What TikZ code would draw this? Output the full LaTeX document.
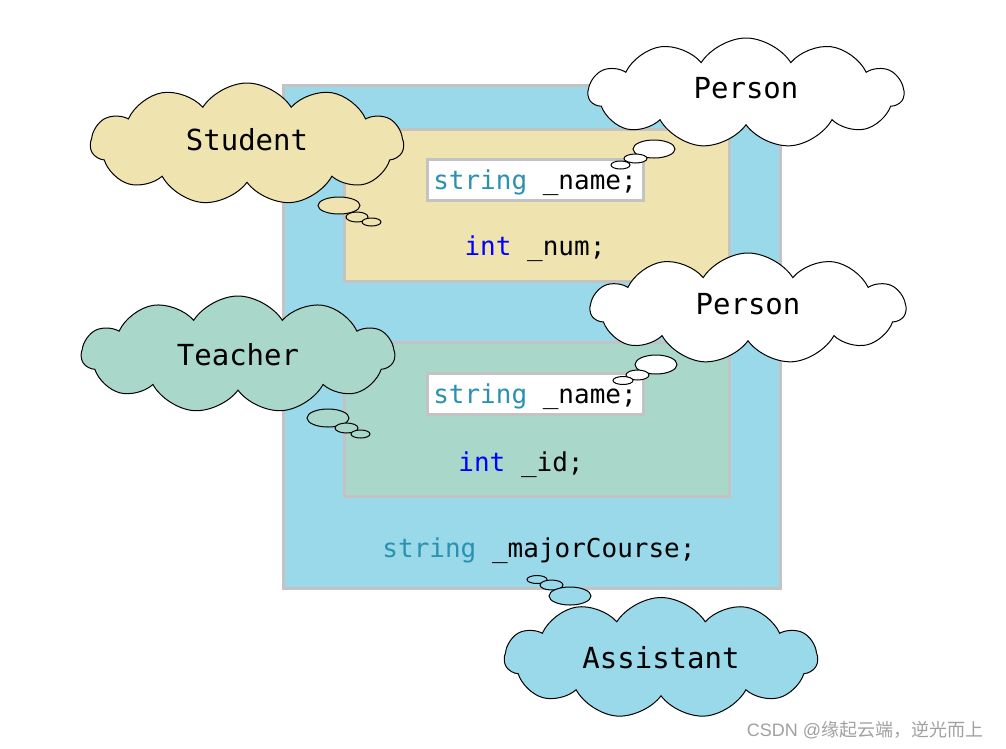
\documentclass[tikz,border=0pt]{standalone}
\usepackage{fontspec}
\setmonofont{DejaVu Sans Mono}
\newfontfamily\cjkfont{Noto Sans CJK SC}
\newfontfamily\latinmark{Liberation Sans}
\usetikzlibrary{shapes.symbols}
\definecolor{outerblue}{HTML}{99D9EA}
\definecolor{stutan}{HTML}{EFE4B0}
\definecolor{teagreen}{HTML}{A9D8CA}
\definecolor{boxgray}{HTML}{C3C3C3}
\definecolor{typeteal}{HTML}{2B91AF}
\definecolor{kwblue}{HTML}{0000FF}
\definecolor{markgray}{HTML}{A0A0A0}
\newcommand{\ty}[1]{\textcolor{typeteal}{#1}}
\newcommand{\kw}[1]{\textcolor{kwblue}{#1}}
\tikzset{
  box/.style={draw=boxgray, line width=3pt, inner sep=0pt},
  code/.style={font=\ttfamily\fontsize{26}{30}\selectfont, text depth=0pt},
  thought/.style={cloud, cloud puffs=11, cloud puff arc=115, aspect=2.6,
    draw=black, line width=1pt, inner sep=0pt, cloud ignores aspect,
    font=\ttfamily\fontsize{29}{34}\selectfont},
  bubble/.style={draw=black, line width=1pt}
}
\begin{document}
\begin{tikzpicture}[x=1pt,y=-1pt]
\useasboundingbox (0,0) rectangle (1006,748);
% class boxes
\node[box, fill=outerblue, minimum width=497pt, minimum height=503pt] (outer) at (532,337) {};
\node[box, fill=stutan, minimum width=385pt, minimum height=152pt] (stubox) at (537,205) {};
\node[box, fill=teagreen, minimum width=385pt, minimum height=154pt] (teabox) at (537,419) {};
\node[box, fill=white, code, minimum width=216pt, minimum height=41pt] (name1) at (535,179.5) {\ty{string} \_name;};
\node[box, fill=white, code, minimum width=216pt, minimum height=41pt] (name2) at (535,393.5) {\ty{string} \_name;};
\node[code] (num) at (535,246) {\kw{int} \_num;};
\node[code] (id) at (521,462) {\kw{int} \_id;};
\node[code] (major) at (539,548) {\ty{string} \_majorCourse;};
% thought clouds
\node[thought, fill=stutan, text depth=10pt, minimum width=313pt, minimum height=122pt] (student) at (247,144) {Student};
\filldraw[bubble, fill=stutan] (339,205.5) ellipse [x radius=21pt, y radius=8.5pt];
\filldraw[bubble, fill=stutan] (357,217) ellipse [x radius=11pt, y radius=5pt];
\filldraw[bubble, fill=stutan] (371.5,222) ellipse [x radius=9.5pt, y radius=4pt];
\node[thought, fill=white, text depth=10pt, minimum width=315pt, minimum height=110pt] (person1) at (746,93) {Person};
\filldraw[bubble, fill=white] (654,149) ellipse [x radius=21pt, y radius=9pt];
\filldraw[bubble, fill=white] (635.5,158.5) ellipse [x radius=11.5pt, y radius=4.5pt];
\filldraw[bubble, fill=white] (620.5,165) ellipse [x radius=9.5pt, y radius=4pt];
\node[thought, fill=teagreen, minimum width=313pt, minimum height=117pt] (teacher) at (238,354.5) {Teacher};
\filldraw[bubble, fill=teagreen] (328,418) ellipse [x radius=21pt, y radius=9pt];
\filldraw[bubble, fill=teagreen] (346.5,428) ellipse [x radius=11.5pt, y radius=5pt];
\filldraw[bubble, fill=teagreen] (360.5,434) ellipse [x radius=9.5pt, y radius=4pt];
\node[thought, fill=white, text depth=9pt, minimum width=315pt, minimum height=111pt] (person2) at (748,308.5) {Person};
\filldraw[bubble, fill=white] (656,364.5) ellipse [x radius=21pt, y radius=9.5pt];
\filldraw[bubble, fill=white] (637.5,375) ellipse [x radius=11.5pt, y radius=5pt];
\filldraw[bubble, fill=white] (623,380.5) ellipse [x radius=10pt, y radius=4pt];
\filldraw[bubble, fill=outerblue] (537,579.5) ellipse [x radius=10pt, y radius=4pt];
\filldraw[bubble, fill=outerblue] (551.5,585) ellipse [x radius=11.5pt, y radius=5pt];
\filldraw[bubble, fill=outerblue] (570,596) ellipse [x radius=21pt, y radius=9pt];
\node[thought, fill=outerblue, minimum width=313pt, minimum height=121pt] (assistant) at (661,658) {Assistant};
% watermark
\node[font=\cjkfont\fontsize{18}{20}\selectfont, text=markgray] (mark) at (865,730) {{\latinmark CSDN @}缘起云端，逆光而上};
\end{tikzpicture}
\end{document}
